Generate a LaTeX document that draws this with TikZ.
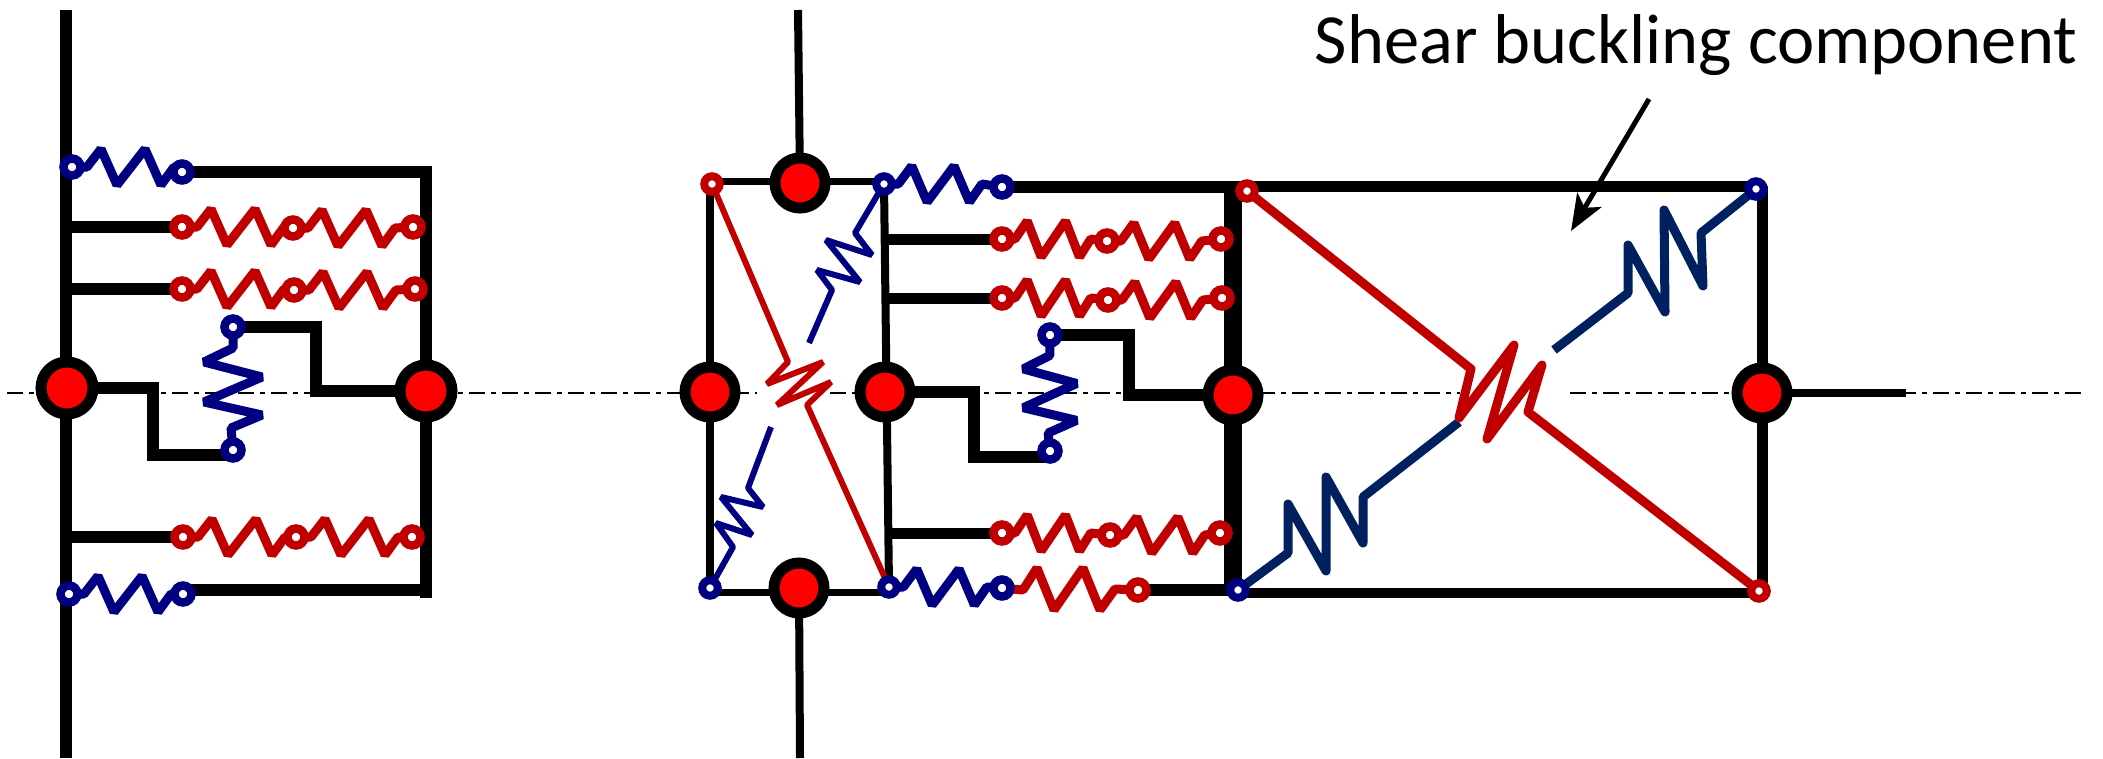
\documentclass[tikz,border=0pt]{standalone}
\usepackage{fontspec}
\setmainfont{Carlito}
\usetikzlibrary{arrows.meta,backgrounds}
\definecolor{rugored}{HTML}{C00000}
\definecolor{rugoblue}{HTML}{000080}
\definecolor{shearblue}{HTML}{002060}
\tikzset{
  joint/.style={circle,draw=black,fill=red,line width=11pt,inner sep=0pt,minimum size=#1},
  joint/.default=50pt,
  redring/.style={circle,draw=rugored,fill=white,line width=8.5pt,inner sep=0pt,minimum size=17pt},
  bluering/.style={circle,draw=rugoblue,fill=white,line width=8.5pt,inner sep=0pt,minimum size=17pt},
  rod/.style={draw=black,line width=#1},
  rod/.default=12pt,
  redspr/.style={draw=rugored,line width=9pt,line join=bevel},
  bluespr/.style={draw=rugoblue,line width=9pt,line join=bevel},
  thinred/.style={draw=rugored,line width=6pt,line join=bevel},
  thinblue/.style={draw=rugoblue,line width=6pt,line join=bevel},
  fatred/.style={draw=rugored,line width=9pt,line join=round},
  fatblue/.style={draw=shearblue,line width=9pt,line join=round},
  axisline/.style={draw=black,line width=1.8pt,dash pattern=on 16pt off 6pt on 5pt off 6pt},
  pointer/.style={draw=black,line width=5pt,-{Stealth[length=36pt,width=28pt,inset=9pt]}},
}
% one spring, lying or standing, between two rings
\newcommand{\zigh}[3]{\draw[#1] (#2.center) -- ++(15,0) -- ++(14,-18) -- ++(16,36) -- ++(28,-36) -- ++(16,36) -- ++(13,-18) -- (#3.center);}
\newcommand{\zigv}[3]{\draw[#1] (#2.center) -- ++(0,21) -- ++(-29,14) -- ++(58,15) -- ++(-58,25) -- ++(58,13) -- ++(-31,13) -- (#3.center);}

\begin{document}
\begin{tikzpicture}[x=1pt,y=-1pt]
  \useasboundingbox (0,0) rectangle (2103,758);

  % left connection
  \node[joint=52pt] (jl1) at (67,388) {};
  \node[joint=52pt] (jl2) at (426,391) {};
  \coordinate (cl1) at (66,10);
  \coordinate (cl2) at (66,758);
  \coordinate (cl3) at (426,598);
  \coordinate (cl4) at (183,590);
  \node[bluering] (b1) at (72,167) {};
  \node[bluering] (b2) at (182,172) {};
  \node[redring] (r1) at (182,227) {};
  \node[redring] (r2) at (293,228) {};
  \node[redring] (r3) at (413,227) {};
  \node[redring] (r4) at (182,289) {};
  \node[redring] (r5) at (294,290) {};
  \node[redring] (r6) at (415,289) {};
  \node[bluering] (b3) at (233,327) {};
  \node[bluering] (b4) at (233,450) {};
  \node[redring] (r7) at (183,537) {};
  \node[redring] (r8) at (296,537) {};
  \node[redring] (r9) at (412,537) {};
  \node[bluering] (b5) at (69,594) {};
  \node[bluering] (b6) at (183,594) {};

  % panel zone of the middle connection
  \node[joint] (jm1) at (800,183) {};
  \node[joint] (jm2) at (799,588) {};
  \node[joint] (jm3) at (710,392) {};
  \node[joint] (jm4) at (885,392) {};
  \node[joint] (jm5) at (1233,395) {};
  \coordinate (cm1) at (798,10);
  \coordinate (cm2) at (800,758);
  \coordinate (pt1) at (712,181);
  \coordinate (pt2) at (884,181);
  \coordinate (pt3) at (710,592);
  \coordinate (pt4) at (889,592);
  \node[redring,minimum size=15.5pt,line width=8pt] (pr1) at (712,184) {};
  \node[bluering,minimum size=15.5pt,line width=8pt] (pb1) at (884,184) {};
  \node[bluering,minimum size=15.5pt,line width=8pt] (pb2) at (710,588) {};
  \node[bluering,minimum size=15.5pt,line width=8pt] (pb3) at (889,587) {};
  \coordinate (pe1) at (809,343);
  \coordinate (pe2) at (771,427);
  \node[bluering] (b7) at (1002,187) {};
  \node[redring] (r10) at (1002,239) {};
  \node[redring] (r11) at (1107,241) {};
  \node[redring] (r12) at (1221,239) {};
  \node[redring] (r13) at (1002,298) {};
  \node[redring] (r14) at (1108,300) {};
  \node[redring] (r15) at (1222,298) {};
  \node[bluering] (b8) at (1050,335) {};
  \node[bluering] (b9) at (1050,451) {};
  \node[redring] (r16) at (1002,533) {};
  \node[redring] (r17) at (1110,535) {};
  \node[redring] (r18) at (1220,533) {};
  \node[bluering] (b10) at (1002,588) {};
  \node[redring] (r19) at (1138,590) {};

  % shear buckling box
  \node[joint] (jr1) at (1762,393) {};
  \coordinate (cr1) at (1906,393);
  \node[redring,minimum size=15.5pt,line width=8pt] (sr1) at (1247,191) {};
  \node[bluering,minimum size=15.5pt,line width=8pt] (sb1) at (1756,189) {};
  \node[bluering,minimum size=15.5pt,line width=8pt] (sb2) at (1238,590) {};
  \node[redring,minimum size=15.5pt,line width=8pt] (sr2) at (1759,591) {};
  \coordinate (st1) at (1228,186);
  \coordinate (st2) at (1762,186);
  \coordinate (st3) at (1238,593);
  \coordinate (st4) at (1762,593);
  \coordinate (se1) at (1554,350);
  \coordinate (se2) at (1459,422);
  \node[font=\fontsize{70.5}{70}\selectfont,anchor=base,inner sep=0pt] (lab) at (1696,63) {Shear buckling component};
  \coordinate (ar1) at (1649,99);
  \coordinate (ar2) at (1571,231);

  % the dash-dot axis
  \coordinate (ax1) at (7,393);
  \coordinate (ax2) at (757,393);
  \coordinate (ax3) at (830,393);
  \coordinate (ax4) at (1460,393);
  \coordinate (ax5) at (1570,393);
  \coordinate (ax6) at (2085,393);

  \begin{scope}[on background layer]
    \draw[axisline] (ax1) -- (ax2);
    \draw[axisline] (ax3) -- (ax4);
    \draw[axisline] (ax5) -- (ax6);

    % left connection
    \draw[rod] (cl1) -- (cl2);
    \draw[rod] (b2.center) -- (b2 -| jl2) -- (cl3);
    \draw[rod] (r1.center) -- (r1 -| cl1);
    \draw[rod] (r4.center) -- (r4 -| cl1);
    \draw[rod] (r7.center) -- (r7 -| cl1);
    \draw[rod] (cl4) -- (cl4 -| jl2);
    \draw[rod] (jl1.center) -- (153,388) -- (153,455) -- (153,455 -| b4);
    \draw[rod] (b3.center) -- (316,327) -- (316,391) -- (jl2.center);
    \zigh{bluespr}{b1}{b2}
    \zigh{redspr}{r1}{r2}
    \zigh{redspr}{r2}{r3}
    \zigh{redspr}{r4}{r5}
    \zigh{redspr}{r5}{r6}
    \zigv{bluespr}{b3}{b4}
    \zigh{redspr}{r7}{r8}
    \zigh{redspr}{r8}{r9}
    \zigh{bluespr}{b5}{b6}

    % panel zone
    \draw[rod=8pt] (cm1) -- (jm1.center);
    \draw[rod=8pt] (jm2.center) -- (cm2);
    \draw[rod=7pt] (pt1) -- (pt2);
    \draw[rod=7pt] (pt3) -- (pt4);
    \draw[rod=8pt] (pr1 -| pb2) -- (pb2.center);
    \draw[rod=8pt] (pb1.center) -- (pb3.center);
    \draw[thinred] (pr1.center) -- (788,362) -- (767,384) -- (823,362) -- (777,405) -- (831,382) -- (807,405) -- (pb3.center);
    \draw[thinblue] (pb1.center) -- (855,233) -- (872,255) -- (826,240) -- (860,282) -- (817,270) -- (832,290) -- (pe1);
    \draw[thinblue] (pb2.center) -- (733,547) -- (716,523) -- (752,535) -- (721,497) -- (763,507) -- (748,488) -- (pe2);

    % middle connection
    \draw[rod] (b7.center) -- (b7 -| jm5);
    \draw[rod=18pt] (jm5 |- b7) -- (jm5 |- sb2);
    \draw[rod=11pt] (r10.center) -- (r10 -| jm4);
    \draw[rod=11pt] (r13.center) -- (r13 -| jm4);
    \draw[rod=11pt] (r16.center) -- (r16 -| jm4);
    \draw[rod] (jm4.center) -- (974,392) -- (974,457) -- (974,457 -| b9);
    \draw[rod] (b8.center) -- (1129,335) -- (1129,395) -- (jm5.center);
    \draw[rod] (r19.center) -- (sb2.center);
    \zigh{bluespr,xscale=.96}{pb1}{b7}
    \zigh{redspr,xscale=.87}{r10}{r11}
    \zigh{redspr,xscale=.93}{r11}{r12}
    \zigh{redspr,xscale=.87}{r13}{r14}
    \zigh{redspr,xscale=.93}{r14}{r15}
    \zigv{bluespr,xscale=.92,yscale=.97}{b8}{b9}
    \zigh{redspr,xscale=.87}{r16}{r17}
    \zigh{redspr,xscale=.93}{r17}{r18}
    \zigh{bluespr,xscale=.96}{pb3}{b10}
    \draw[redspr] (b10.center) -- ++(21,2) -- ++(14,-22) -- ++(17,42) -- ++(29,-42) -- ++(17,42) -- ++(15,-21) -- (r19.center);

    % shear buckling box
    \draw[rod=11pt] (st1) -- (st2);
    \draw[rod=11pt] (st2) -- (st4);
    \draw[rod=10pt] (st3) -- (st4);
    \draw[rod=8pt] (jr1.center) -- (cr1);
    \draw[fatblue] (sb1.center) -- (1701,233) -- (1703,286) -- (1664,210) -- (1665,312) -- (1628,245) -- (1628,293) -- (se1);
    \draw[fatblue] (sb2.center) -- (1288,553) -- (1288,504) -- (1326,571) -- (1326,477) -- (1363,543) -- (1363,497) -- (se2);
    \draw[fatred] (sr1.center) -- (1471,369) -- (1459,418) -- (1514,345) -- (1487,439) -- (1542,365) -- (1528,412) -- (sr2.center);
  \end{scope}

  \draw[pointer] (ar1) -- (ar2);
\end{tikzpicture}
\end{document}
